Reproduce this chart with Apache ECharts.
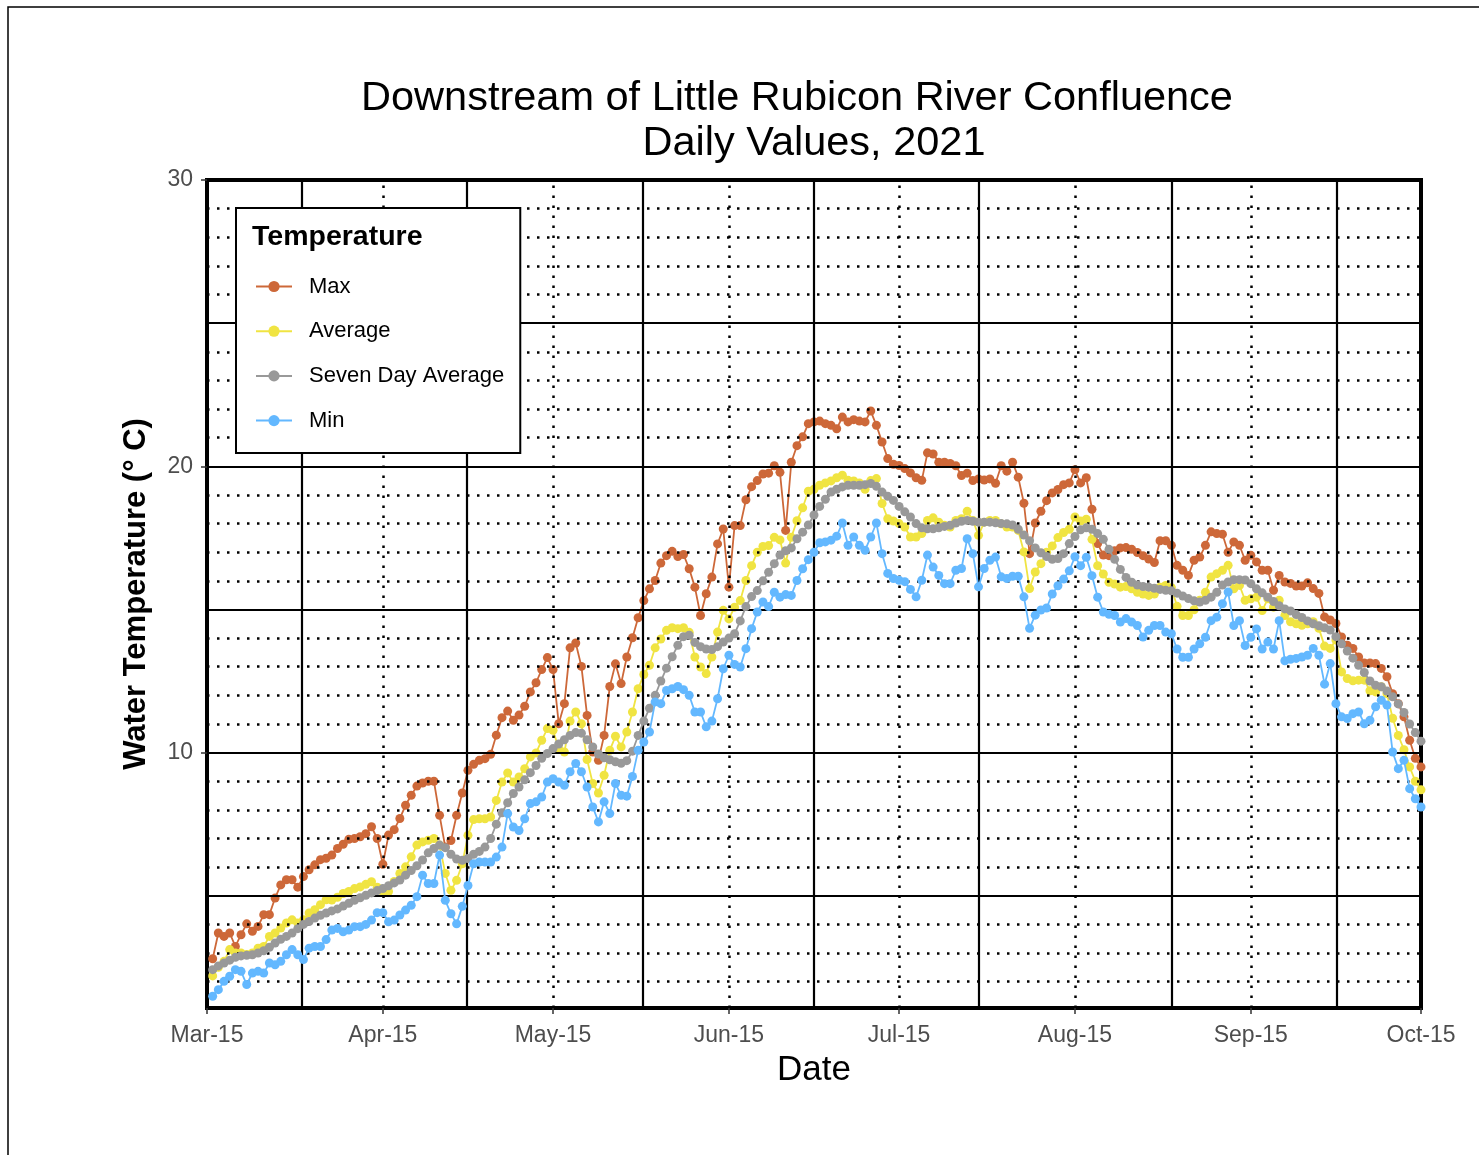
<!DOCTYPE html>
<html>
<head>
<meta charset="utf-8">
<title>Downstream of Little Rubicon River Confluence</title>
<script src="https://cdn.jsdelivr.net/npm/echarts@6/dist/echarts.min.js"></script>
<style>
  html, body { margin: 0; padding: 0; background: #fff; }
  #chart { width: 1479px; height: 1155px; }
</style>
</head>
<body>
<div id="chart"></div>
<script>
// x axis counts days from 2021-03-15 (day 0); one reading per day from Mar-16 (day 1)
const tickDays = [0, 31, 61, 92, 122, 153, 184, 214]
const tickLabels = ['Mar-15', 'Apr-15', 'May-15', 'Jun-15', 'Jul-15', 'Aug-15', 'Sep-15', 'Oct-15']
// solid vertical grid lines, in days, where the original puts them
const minorBreakDays = [16.75, 45.85, 76.85, 107.0, 136.1, 170.1, 199.2]
const yTicks = [10, 20, 30]

// daily values, degrees C
const maxTemp = [
  2.8, 3.7, 3.58, 3.7, 3.23, 3.64, 4.02, 3.76, 3.93, 4.34,
  4.34, 4.92, 5.38, 5.56, 5.56, 5.3, 5.67, 5.91, 6.08, 6.26,
  6.31, 6.42, 6.65, 6.8, 6.97, 7.0, 7.06, 7.17, 7.41, 7.0,
  6.1, 7.12, 7.31, 7.7, 8.16, 8.51, 8.83, 8.94, 9.0, 9.0,
  7.81, 6.7, 6.93, 7.81, 8.59, 9.38, 9.59, 9.73, 9.79, 9.94,
  10.61, 11.22, 11.45, 11.13, 11.31, 11.62, 12.12, 12.44, 12.9, 13.32,
  12.9, 11.01, 11.71, 13.66, 13.83, 13.01, 11.3, 10.02, 9.73, 10.6,
  12.31, 13.1, 12.41, 13.34, 14.01, 14.71, 15.31, 15.72, 16.01, 16.62,
  16.88, 17.03, 16.85, 16.92, 16.42, 15.78, 14.79, 15.55, 16.13, 17.29,
  17.81, 15.78, 17.93, 17.93, 18.83, 19.29, 19.5, 19.73, 19.76, 20.02,
  19.79, 17.76, 20.14, 20.72, 21.03, 21.49, 21.55, 21.58, 21.49, 21.43,
  21.31, 21.72, 21.55, 21.63, 21.58, 21.55, 21.93, 21.43, 20.85, 20.27,
  20.07, 20.03, 19.92, 19.77, 19.6, 19.51, 20.47, 20.43, 20.14, 20.14,
  20.1, 20.02, 19.68, 19.76, 19.5, 19.56, 19.52, 19.56, 19.41, 20.02,
  19.83, 20.14, 19.62, 18.71, 16.95, 18.02, 18.43, 18.8, 19.07, 19.19,
  19.36, 19.42, 19.88, 19.42, 19.6, 18.5, 17.3, 16.9, 16.88, 17.05,
  17.15, 17.16, 17.1, 16.99, 16.88, 16.76, 16.64, 17.4, 17.4, 17.24,
  16.54, 16.37, 16.19, 16.72, 16.83, 17.24, 17.71, 17.65, 17.63, 17.0,
  17.36, 17.24, 16.72, 16.89, 16.66, 16.37, 16.37, 15.67, 16.19, 15.96,
  15.91, 15.82, 15.82, 15.93, 15.73, 15.56, 14.74, 14.63, 14.51, 14.04,
  13.75, 13.64, 13.34, 13.13, 13.13, 13.11, 12.94, 12.65, 12.06, 11.71,
  11.25, 10.43, 9.8, 9.5
]
const avgTemp = [
  2.2, 2.5, 2.71, 3.12, 3.0, 3.0, 2.95, 3.0, 3.17, 3.23,
  3.58, 3.7, 3.87, 4.05, 4.16, 4.05, 4.16, 4.4, 4.51, 4.69,
  4.86, 4.85, 4.95, 5.08, 5.15, 5.25, 5.31, 5.4, 5.49, 5.3,
  5.14, 5.15, 5.5, 5.78, 6.01, 6.36, 6.77, 6.88, 6.94, 7.0,
  6.77, 5.78, 5.19, 5.54, 6.12, 7.11, 7.66, 7.69, 7.69, 7.75,
  8.33, 8.97, 9.29, 8.97, 9.15, 9.44, 9.85, 9.99, 10.43, 10.84,
  10.78, 10.14, 10.02, 11.1, 11.42, 11.01, 9.76, 8.92, 8.59, 9.21,
  10.08, 10.57, 10.2, 10.72, 11.42, 12.23, 12.73, 13.05, 13.66, 13.97,
  14.27, 14.36, 14.33, 14.36, 14.2, 13.34, 12.99, 12.76, 13.34, 14.21,
  14.97, 14.67, 15.08, 15.31, 16.01, 16.53, 17.0, 17.2, 17.23, 17.52,
  17.43, 16.62, 17.52, 18.1, 18.55, 19.13, 19.2, 19.34, 19.42, 19.49,
  19.6, 19.69, 19.51, 19.49, 19.42, 19.2, 19.5, 19.57, 18.7, 18.17,
  18.09, 18.0, 17.88, 17.53, 17.53, 17.65, 18.11, 18.2, 18.05, 17.94,
  17.88, 18.11, 18.17, 18.43, 18.11, 17.59, 18.05, 18.11, 18.11, 17.99,
  17.88, 17.88, 17.76, 17.01, 15.73, 16.31, 16.6, 17.0, 17.22, 17.51,
  17.69, 17.8, 18.23, 18.09, 18.15, 17.45, 16.53, 16.24, 15.95, 15.89,
  15.78, 15.8, 15.72, 15.6, 15.54, 15.49, 15.54, 15.78, 15.84, 15.76,
  15.11, 14.79, 14.79, 14.99, 15.32, 15.6, 16.13, 16.25, 16.37, 16.54,
  15.72, 15.84, 15.32, 15.37, 15.43, 14.96, 15.37, 15.08, 15.32, 14.79,
  14.57, 14.5, 14.45, 14.5, 14.57, 14.34, 13.72, 13.64, 13.93, 12.82,
  12.59, 12.51, 12.53, 12.53, 12.16, 12.12, 12.3, 12.06, 11.2, 10.6,
  10.1, 9.5, 9.0, 8.7
]
const sevenDayAvg = [
  2.42, 2.55, 2.65, 2.75, 2.85, 2.9, 2.92, 2.94, 3.0, 3.08,
  3.2, 3.35, 3.48, 3.58, 3.7, 3.85, 4.0, 4.1, 4.22, 4.32,
  4.4, 4.47, 4.54, 4.64, 4.74, 4.84, 4.93, 5.02, 5.1, 5.18,
  5.25, 5.35, 5.45, 5.55, 5.72, 5.88, 6.05, 6.25, 6.5, 6.65,
  6.77, 6.68, 6.45, 6.28, 6.24, 6.3, 6.45, 6.55, 6.7, 7.0,
  7.5, 7.9, 8.25, 8.57, 8.8, 9.05, 9.3, 9.55, 9.8, 9.97,
  10.14, 10.3, 10.45, 10.6, 10.7, 10.68, 10.45, 10.2, 9.95, 9.82,
  9.75, 9.68, 9.63, 9.72, 10.05, 10.6, 11.1, 11.55, 12.0, 12.5,
  12.95, 13.35, 13.75, 14.05, 14.1, 13.85, 13.7, 13.62, 13.6, 13.7,
  13.86, 14.0, 14.15, 14.6, 15.1, 15.45, 15.66, 16.0, 16.3, 16.6,
  16.9, 17.05, 17.15, 17.47, 17.7, 17.95, 18.3, 18.6, 18.85, 19.1,
  19.2, 19.28, 19.34, 19.34, 19.34, 19.36, 19.4, 19.3, 19.1, 18.95,
  18.81, 18.6, 18.41, 18.23, 18.0, 17.85, 17.82, 17.82, 17.85, 17.9,
  17.94, 18.02, 18.08, 18.11, 18.08, 18.05, 18.05, 18.05, 18.03, 18.0,
  17.99, 17.95, 17.8, 17.6, 17.4, 17.15, 16.98, 16.85, 16.75, 16.78,
  16.95, 17.3, 17.55, 17.78, 17.85, 17.8, 17.65, 17.45, 17.1, 16.75,
  16.4, 16.12, 15.95, 15.85, 15.8, 15.78, 15.74, 15.7, 15.67, 15.65,
  15.57, 15.47, 15.38, 15.3, 15.26, 15.32, 15.43, 15.6, 15.85, 15.96,
  16.04, 16.04, 16.03, 15.9, 15.72, 15.58, 15.43, 15.28, 15.13, 15.02,
  14.95, 14.82, 14.72, 14.6, 14.5, 14.43, 14.36, 14.28, 14.05, 13.8,
  13.55, 13.3, 13.05, 12.8, 12.5, 12.35, 12.3, 12.15, 11.95, 11.7,
  11.4, 11.0, 10.7, 10.4
]
const minTemp = [
  1.49, 1.72, 2.01, 2.19, 2.42, 2.36, 1.9, 2.3, 2.36, 2.3,
  2.65, 2.59, 2.71, 2.94, 3.12, 2.94, 2.77, 3.17, 3.23, 3.23,
  3.47, 3.8, 3.86, 3.74, 3.8, 3.92, 3.92, 4.0, 4.15, 4.41,
  4.41, 4.09, 4.15, 4.33, 4.5, 4.67, 4.97, 5.72, 5.43, 5.43,
  6.42, 4.84, 4.37, 4.02, 4.63, 5.36, 6.12, 6.18, 6.18, 6.18,
  6.35, 6.7, 7.87, 7.4, 7.28, 7.69, 8.22, 8.28, 8.45, 8.97,
  9.09, 8.97, 8.86, 9.33, 9.62, 9.33, 8.8, 8.1, 7.58, 8.28,
  7.87, 8.92, 8.51, 8.48, 9.17, 10.08, 10.37, 10.72, 11.77, 11.71,
  12.17, 12.23, 12.31, 12.2, 12.0, 11.42, 11.42, 10.9, 11.1, 11.88,
  12.93, 13.4, 13.08, 12.99, 13.63, 14.33, 14.91, 15.26, 15.1, 15.6,
  15.43, 15.52, 15.49, 16.01, 16.42, 16.74, 17.0, 17.33, 17.36, 17.42,
  17.56, 18.02, 17.24, 17.53, 17.24, 17.07, 17.53, 18.02, 16.95, 16.26,
  16.08, 16.02, 15.97, 15.7, 15.44, 16.02, 16.9, 16.48, 16.19, 15.9,
  15.9, 16.37, 16.43, 17.47, 16.95, 15.79, 16.43, 16.72, 16.83, 16.14,
  16.08, 16.16, 16.16, 15.44, 14.34, 14.8, 14.98, 15.05, 15.54, 15.83,
  16.06, 16.35, 16.84, 16.53, 16.82, 16.18, 15.43, 14.91, 14.83, 14.79,
  14.56, 14.68, 14.56, 14.44, 14.04, 14.27, 14.44, 14.44, 14.21, 14.15,
  13.62, 13.33, 13.33, 13.62, 13.8, 14.03, 14.61, 14.73, 15.2, 15.61,
  14.44, 14.61, 13.74, 14.03, 14.32, 13.62, 13.86, 13.62, 14.61, 13.21,
  13.26, 13.29, 13.34, 13.4, 13.64, 13.4, 12.39, 13.11, 11.71, 11.25,
  11.19, 11.36, 11.42, 11.01, 11.13, 11.6, 11.83, 11.66, 10.02, 9.44,
  9.73, 8.74, 8.39, 8.1
]

const FONT = '"Liberation Sans", Arial, Helvetica, sans-serif'
const AXIS_TEXT = '#4d4d4d'
const DOTS = [2.5, 7.5]

// day 1 is the first reading
const toPoints = (vals) => vals.map((v, i) => [i + 1, v])

// grid lines: dotted every degree / at the 15th of each month, solid at 5-degree steps / minor breaks
const gridLines = []
for (let v = 2; v <= 29; v++) {
  gridLines.push({
    yAxis: v,
    lineStyle: v % 5 === 0 ? { type: 'solid', width: 2.2, color: '#000' } : { type: DOTS, width: 2.5, color: '#000' }
  })
}
tickDays.slice(1, -1).forEach((d) => {
  gridLines.push({ xAxis: d, lineStyle: { type: DOTS, width: 2.5, color: '#000' } })
})
minorBreakDays.forEach((d) => {
  gridLines.push({ xAxis: d, lineStyle: { type: 'solid', width: 2.2, color: '#000' } })
})

function lineSeries(name, vals, color, z) {
  return {
    name: name,
    type: 'line',
    data: toPoints(vals),
    symbol: 'circle',
    symbolSize: 9,
    showSymbol: true,
    z: z,
    lineStyle: { width: 1.8, color: color },
    itemStyle: { color: color },
    emphasis: { disabled: true }
  }
}

const chart = echarts.init(document.getElementById('chart'))

chart.setOption({
  animation: false,
  backgroundColor: '#fff',
  textStyle: { fontFamily: FONT },
  // legend heading sits inside the legend box
  title: {
    text: 'Temperature',
    left: 252,
    top: 223,
    padding: 0,
    z: 12,
    textStyle: { fontSize: 28.5, fontWeight: 'bold', color: '#000', fontFamily: FONT }
  },
  grid: {
    left: 207,
    top: 180,
    width: 1214,
    height: 828,
    show: true,
    borderColor: '#000',
    borderWidth: 4,
    backgroundColor: '#fff'
  },
  xAxis: {
    type: 'value',
    min: 0,
    max: 214,
    name: 'Date',
    nameLocation: 'middle',
    nameGap: 45,
    nameTextStyle: { fontSize: 35, color: '#000', fontFamily: FONT },
    axisLine: { show: false },
    splitLine: { show: false },
    axisTick: { show: true, customValues: tickDays, length: 6, lineStyle: { color: '#333', width: 1.5 } },
    axisLabel: {
      customValues: tickDays,
      formatter: (v) => tickLabels[tickDays.indexOf(Math.round(v))] || '',
      fontSize: 23,
      color: AXIS_TEXT,
      margin: 16,
      fontFamily: FONT
    }
  },
  yAxis: {
    type: 'value',
    min: 1.08,
    max: 30,
    name: 'Water Temperature (° C)',
    nameLocation: 'middle',
    nameGap: 55,
    nameTextStyle: { fontSize: 31, fontWeight: 'bold', color: '#000', fontFamily: FONT },
    axisLine: { show: false },
    splitLine: { show: false },
    axisTick: { show: true, customValues: yTicks, length: 6, lineStyle: { color: '#333', width: 1.5 } },
    axisLabel: {
      customValues: yTicks,
      fontSize: 23,
      color: AXIS_TEXT,
      margin: 14,
      fontFamily: FONT
    }
  },
  legend: {
    data: ['Max', 'Average', 'Seven Day Average', 'Min'],
    orient: 'vertical',
    left: 236,
    top: 208,
    padding: [67, 16, 21, 19],
    backgroundColor: '#fff',
    borderColor: '#000',
    borderWidth: 2,
    itemWidth: 36,
    itemHeight: 14,
    itemGap: 21.7,
    z: 10,
    textStyle: { fontSize: 22, lineHeight: 23, color: '#000', padding: [0, 0, 0, 12], fontFamily: FONT }
  },
  graphic: [
    {
      type: 'rect',
      silent: true,
      shape: { x: 8, y: 7, width: 1500, height: 1200 },
      style: { fill: 'none', stroke: '#000', lineWidth: 1.5 }
    },
    {
      type: 'text',
      x: 797,
      y: 99,
      style: { text: 'Downstream of Little Rubicon River Confluence', font: '41.5px ' + FONT, fill: '#000', textAlign: 'center', textVerticalAlign: 'middle' }
    },
    {
      type: 'text',
      x: 814,
      y: 144,
      style: { text: 'Daily Values, 2021', font: '41.5px ' + FONT, fill: '#000', textAlign: 'center', textVerticalAlign: 'middle' }
    }
  ],
  series: [
    {
      type: 'line',
      data: [],
      silent: true,
      z: 1,
      markLine: {
        silent: true,
        symbol: ['none', 'none'],
        label: { show: false },
        animation: false,
        emphasis: { disabled: true },
        data: gridLines
      }
    },
    lineSeries('Max', maxTemp, '#CD6839', 3),
    lineSeries('Average', avgTemp, '#F0E442', 4),
    lineSeries('Seven Day Average', sevenDayAvg, '#999999', 5),
    lineSeries('Min', minTemp, '#63B8FF', 6)
  ]
})
</script>
</body>
</html>
